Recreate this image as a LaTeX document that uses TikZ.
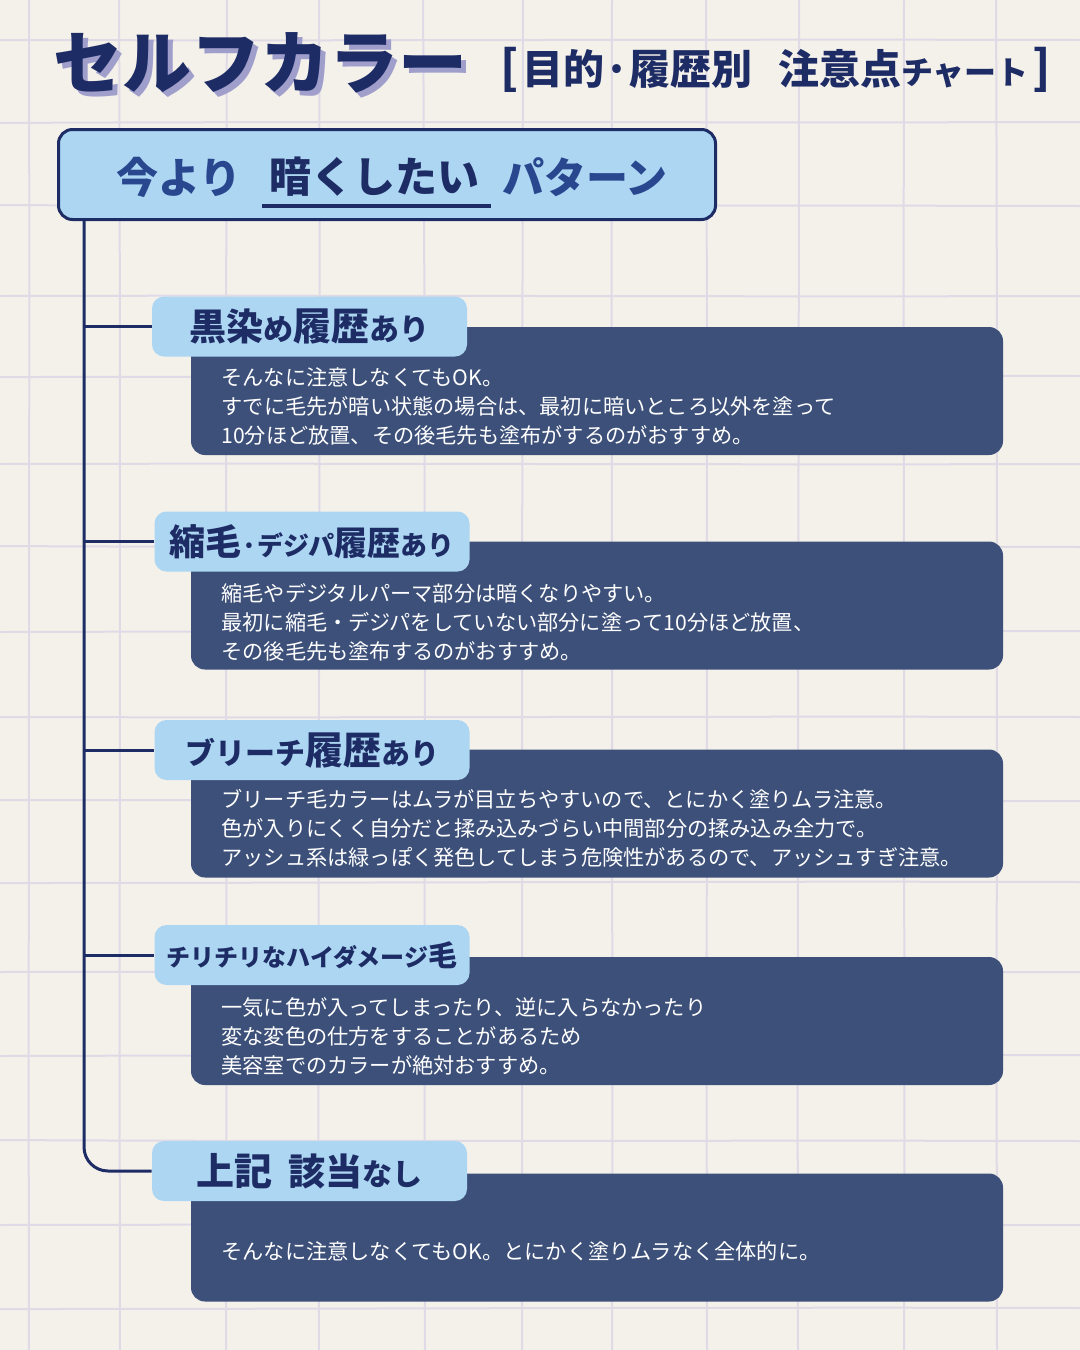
\documentclass[tikz,border=0pt]{standalone}
\usepackage{fontspec}
\setmainfont{Noto Sans CJK JP}
\definecolor{bg}{HTML}{F4F1EB}
\definecolor{gridc}{HTML}{DFDAE6}
\definecolor{navy}{HTML}{1E2C65}
\definecolor{lblue}{HTML}{ACD6F2}
\definecolor{dbox}{HTML}{3D5079}
\definecolor{shadowc}{HTML}{A09ECB}
\definecolor{hblue}{HTML}{28478F}
\newcommand\myfs[2]{{\fontsize{#1}{#1}\selectfont #2}}
\begin{document}
\begin{tikzpicture}[x=0.5pt,y=-0.5pt,
  gridline/.style={draw=gridc, line width=1pt},
  conn/.style={draw=navy, line width=1.5pt},
  darkbox/.style={fill=dbox, rounded corners=7pt, minimum width=406pt, minimum height=64pt, inner sep=0pt},
  labelbox/.style={fill=lblue, rounded corners=6pt, minimum width=157.5pt, minimum height=30pt, inner sep=0pt, text=navy, font=\bfseries},
  bodytext/.style={text=white, align=left, anchor=west, inner sep=0pt, font={\fontsize{10.6}{14.5}\selectfont}},
  hfont/.style={inner sep=0pt, font={\fontsize{21}{21}\selectfont\bfseries}},
  titlefont/.style={inner sep=0pt, font={\fontsize{34.5}{34.5}\selectfont\bfseries}}
]
\useasboundingbox (0,0) rectangle (1080,1350);
\fill[bg] (0,0) rectangle (1080,1350);
% background grid
\foreach \x/\a/\b in {29/0/1, 120/-1/1, 226/1/-1, 319/0/2, 425/-2/1, 522/1/0, 612/0/-1, 707/-1/1, 798/1/1, 904/0/-1, 997/-1/1}
  \draw[gridline] (\x+\a,0) .. controls (\x+\b,450) and (\x-\b,900) .. (\x,1350);
\foreach \y/\a/\b in {40/0/1, 122/1/-1, 206/-1/1, 296/0/-1, 376/1/1, 464/0/-1, 547/-1/1, 631/1/0, 717/0/1, 801/-1/-1, 882/1/1, 972/0/-1, 1055/1/0, 1141/-1/1, 1225/0/-1, 1308/1/1}
  \draw[gridline] (0,\y+\a) .. controls (360,\y+\b) and (720,\y-\b) .. (1080,\y);

% title (with offset shadow in the same node)
\node[titlefont, text=navy] (ttl) at (261,65)
  {\makebox[0pt][l]{\hspace{2.2pt}\raisebox{-2.6pt}{\textcolor{shadowc}{セルフカラー}}}セルフカラー};
\node[anchor=west, inner sep=0pt, text=navy, font=\bfseries] (sub) at (500,70)
  {\myfs{23}{[}\,\myfs{20.5}{目的·履歴別\hspace{13pt}注意点}\myfs{16}{チャート}\,\myfs{23}{]}};

% header
\node[fill=lblue, draw=navy, line width=1.5pt, rounded corners=7pt, minimum width=328.5pt, minimum height=45pt] (hdr) at (387,174.5) {};
\node[hfont, text=hblue] (h1) at (179,177) {今より};
\node[hfont, text=navy] (h2) at (374,177) {暗くしたい};
\node[hfont, text=hblue] (h3) at (585,177) {パターン};
\draw[navy, line width=2pt] (262,206) -- (491,206);

% dark boxes
\node[darkbox] (d1) at (597,391) {};
\node[darkbox] (d2) at (597,605.5) {};
\node[darkbox] (d3) at (597,813.5) {};
\node[darkbox] (d4) at (597,1021) {};
\node[darkbox] (d5) at (597,1237.5) {};

% label boxes
\node[labelbox] (lab1) at (309.5,326.5) {\myfs{18.5}{黒染}\myfs{15}{め}\myfs{19}{履歴}\myfs{15}{あり}};
\node[labelbox] (lab2) at (312,541.5) {\myfs{18}{縮毛}\myfs{13}{·デジパ}\myfs{16.5}{履歴}\myfs{13.5}{あり}};
\node[labelbox] (lab3) at (312,750) {\myfs{15}{ブリーチ}\myfs{19}{履歴}\myfs{14.5}{あり}};
\node[labelbox] (lab4) at (312,955) {\myfs{12}{チリチリなハイダメージ}\myfs{14.5}{毛}};
\node[labelbox] (lab5) at (309.5,1171) {\myfs{19}{上記}\hspace{8pt}\myfs{18.5}{該当}\myfs{15}{なし}};

% connectors
\coordinate (tk) at (84,221);
\draw[conn, rounded corners=12pt] (hdr.south -| tk) -- (tk |- lab5.west) -- (lab5.west);
\foreach \i in {1,...,4}
  \draw[conn] (tk |- lab\i.west) -- (lab\i.west);

% body texts
\node[bodytext] (b1) at (221,406) {そんなに注意しなくてもOK。\\すでに毛先が暗い状態の場合は、最初に暗いところ以外を塗って\\10分ほど放置、その後毛先も塗布がするのがおすすめ。};
\node[bodytext] (b2) at (221,622) {縮毛やデジタルパーマ部分は暗くなりやすい。\\最初に縮毛・デジパをしていない部分に塗って10分ほど放置、\\その後毛先も塗布するのがおすすめ。};
\node[bodytext] (b3) at (221,828) {ブリーチ毛カラーはムラが目立ちやすいので、とにかく塗りムラ注意。\\色が入りにくく自分だと揉み込みづらい中間部分の揉み込み全力で。\\アッシュ系は緑っぽく発色してしまう危険性があるので、アッシュすぎ注意。};
\node[bodytext] (b4) at (221,1036) {一気に色が入ってしまったり、逆に入らなかったり\\変な変色の仕方をすることがあるため\\美容室でのカラーが絶対おすすめ。};
\node[bodytext] (b5) at (221,1251) {そんなに注意しなくてもOK。とにかく塗りムラなく全体的に。};
\end{tikzpicture}
\end{document}
